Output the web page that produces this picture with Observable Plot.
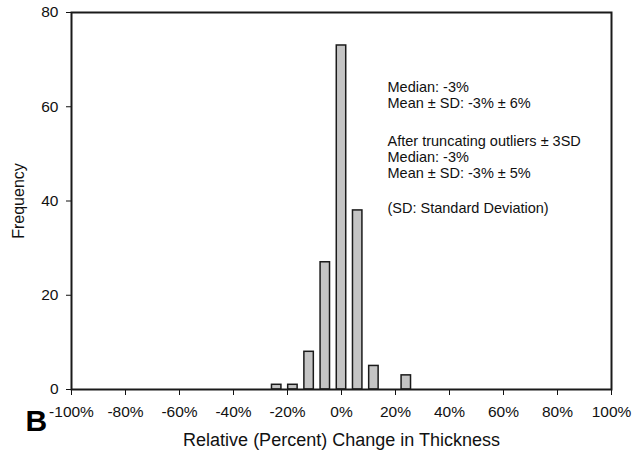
<!DOCTYPE html>
<html><head><meta charset="utf-8">
<script src="https://cdn.jsdelivr.net/npm/d3@7"></script>
<script src="https://cdn.jsdelivr.net/npm/@observablehq/plot@0.6"></script>
<style>
body{margin:0;background:#fff;}
#chart svg{display:block;}
#chart svg g[aria-label*="axis"] text{font-size:15.5px !important;}
</style>
</head><body><div id="chart"></div>
<script>
// ---- data ----
const binCenters = [-24, -18, -12, -6, 0, 6, 12, 18, 24];
const frequencies = [1, 1, 8, 27, 73, 38, 5, 0, 3];
const xTicks = [-100, -80, -60, -40, -20, 0, 20, 40, 60, 80, 100];
const yTicks = [0, 20, 40, 60, 80];
const statLines = [
  "Median: -3%",
  "Mean \u00b1 SD: -3% \u00b1 6%",
  "After truncating outliers \u00b1 3SD",
  "Median: -3%",
  "Mean \u00b1 SD: -3% \u00b1 5%",
  "(SD: Standard Deviation)"
];
const xTitle = "Relative (Percent) Change in Thickness";
const yTitle = "Frequency";
const panelLabel = "B";

// ---- layout ----
const W = 641, H = 452;
const mL = 71, mR = 30, mT = 12, mB = 63;
const halfBar = 1.75;
const statDy = [75, 91, 129, 145, 161, 196];
const font = "Liberation Sans, Arial, Helvetica, sans-serif";

const bins = binCenters.map((c, i) => ({center: c, count: frequencies[i]})).filter(d => d.count > 0);

const chart = Plot.plot({
  width: W, height: H,
  marginLeft: mL, marginRight: mR, marginTop: mT, marginBottom: mB,
  style: {fontFamily: font, fontSize: "15px", color: "#111", background: "#fff"},
  x: {domain: [-100, 100], ticks: xTicks, tickFormat: d => d + "%", tickSize: 6, tickPadding: 10, label: null},
  y: {domain: [0, 80], ticks: yTicks, tickSize: 5, tickPadding: 8, label: null},
  marks: [
    Plot.rectY(bins, {x1: d => d.center - halfBar, x2: d => d.center + halfBar, y: "count",
      fill: "#c4c4c4", stroke: "#1a1a1a", strokeWidth: 1.5}),
    Plot.frame({stroke: "#1a1a1a", strokeWidth: 2}),
    ...statLines.map((t, i) => Plot.text([t], {frameAnchor: "top-left", dx: 316, dy: statDy[i],
      text: d => d, textAnchor: "start", lineAnchor: "middle", fontSize: 14.5, fill: "#111"})),
    Plot.text([yTitle], {frameAnchor: "left", dx: -53, text: d => d, rotate: -90,
      textAnchor: "middle", lineAnchor: "middle", fontSize: 16, fill: "#111"}),
    Plot.text([xTitle], {frameAnchor: "bottom", dy: 51, text: d => d, lineAnchor: "middle",
      fontSize: 18, fill: "#111"}),
    Plot.text([panelLabel], {frameAnchor: "bottom-left", dx: -46, dy: 32, text: d => d,
      textAnchor: "start", lineAnchor: "middle", fontSize: 30, fontWeight: "bold", fill: "#000"})
  ]
});
document.getElementById("chart").appendChild(chart);
</script>
</body></html>
